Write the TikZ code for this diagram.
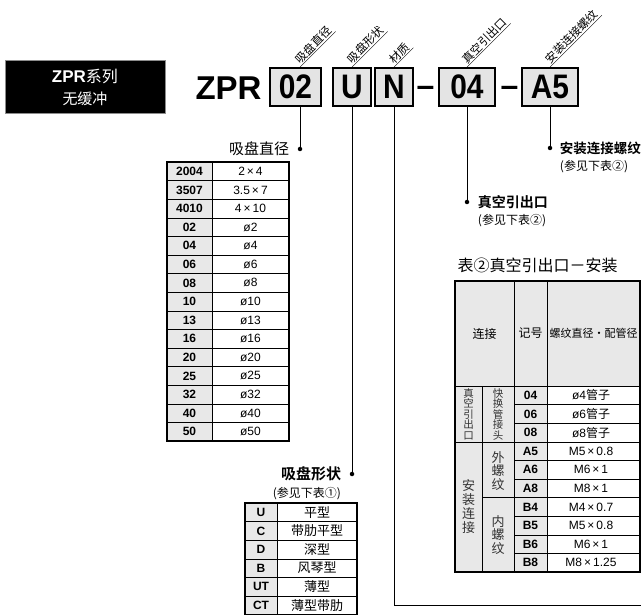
\documentclass[tikz,border=0pt]{standalone}
\usepackage{fontspec}
\setmainfont{Liberation Sans}
\newfontfamily\cjk{Noto Sans CJK SC}[BoldFont={Noto Sans CJK SC Bold}]
\newfontfamily\condsf{Liberation Sans}[FakeStretch=0.88]
\usetikzlibrary{positioning}

\definecolor{cellgray}{RGB}{232,232,232}
\definecolor{boxgray}{RGB}{228,228,228}

\tikzset{
  codebox/.style={draw, line width=1.6pt, fill=boxgray, minimum height=38pt, inner sep=0pt,
    font=\condsf\bfseries\fontsize{34}{34}\selectfont},
  partlabel/.style={rotate=45, anchor=south west, inner xsep=2pt, inner ysep=1pt,
    font=\cjk\fontsize{11.5}{11.5}\selectfont},
  joint/.style={circle, fill, inner sep=0pt, minimum size=4.5pt},
  codecell/.style={font=\bfseries\fontsize{12}{12}\selectfont},
  valcell/.style={font=\fontsize{12}{12}\selectfont},
  shapecell/.style={font=\cjk\fontsize{13}{13}\selectfont},
  vtext/.style={align=center, text=black!80},
}

\begin{document}
\begin{tikzpicture}[x=1pt, y=-1pt]
    \useasboundingbox (0,0) rectangle (641,615);
    \clip (0,0) rectangle (641,615);

    % 系列框
    \node[fill=black, draw=black!45, line width=1pt, minimum width=160pt, minimum height=53pt,
          text=white, align=center, font=\fontsize{16}{22}\selectfont] (series) at (85,87.5)
        {{\bfseries\fontsize{17}{17}\selectfont ZPR}{\cjk 系列}\\{\cjk\fontsize{15}{15}\selectfont 无缓冲}};

    % 型号
    \node[font=\bfseries\fontsize{33}{33}\selectfont] (zpr) at (228.5,88) {ZPR};
    \node[codebox, minimum width=51pt] (b02) at (295.5,87) {02};
    \node[codebox, minimum width=38pt] (bU) at (352,87) {U};
    \node[codebox, minimum width=38pt] (bN) at (394,87) {N};
    \node[anchor=base, font=\bfseries\fontsize{32}{32}\selectfont] (dash1) at (425.5,97) {–};
    \node[codebox, minimum width=56pt] (b04) at (467,87) {04};
    \node[anchor=base, font=\bfseries\fontsize{32}{32}\selectfont] (dash2) at (509.5,97) {–};
    \node[codebox, minimum width=56pt] (bA5) at (550,87) {A5};

    % 引出点
    \node[joint] (j02) at (300,149) {};
    \node[joint] (jU) at (352,474) {};
    \node[joint] (j04) at (467,202) {};
    \node[joint] (jA5) at (550,148) {};
    \coordinate (nEnd) at (660,605);

    % 斜向标注
    \node[partlabel] (t02) at (b02.north -| j02) {吸盘直径};
    \node[partlabel] (tU) at (bU.north) {吸盘形状};
    \node[partlabel] (tN) at (bN.north) {材质};
    \node[partlabel] (t04) at (b04.north) {真空引出口};
    \node[partlabel] (tA5) at (bA5.north) {安装连接螺纹};
    \foreach \t in {t02,tU,tN,t04,tA5}
        \draw (\t.south west) -- (\t.south east);

    % 引出线
    \draw[line width=1pt] (b02.south -| j02) -- (j02);
    \draw[line width=1pt] (bU.south) -- (jU);
    \draw[line width=1pt] (bN.south) -- (bN.south |- nEnd) -- (nEnd);
    \draw[line width=1pt] (b04.south) -- (j04);
    \draw[line width=1pt] (bA5.south) -- (jA5);

    % 标注文字
    \node[left=5pt of j02, font=\cjk\fontsize{15}{15}\selectfont] (l02) {吸盘直径};
    \node[left=5pt of jU, font=\cjk\bfseries\fontsize{15}{15}\selectfont] (lU) {吸盘形状};
    \node[anchor=north east, font=\cjk\fontsize{12}{12}\selectfont] (nU) at ([yshift=1pt]lU.south east) {(参见下表①)};
    \node[right=5pt of j04, font=\cjk\bfseries\fontsize{14}{14}\selectfont] (l04) {真空引出口};
    \node[anchor=north west, font=\cjk\fontsize{12}{12}\selectfont] (n04) at ([yshift=1pt]l04.south west) {(参见下表②)};
    \node[right=4pt of jA5, font=\cjk\bfseries\fontsize{13.5}{13.5}\selectfont] (lA5) {安装连接螺纹};
    \node[anchor=north west, font=\cjk\fontsize{12}{12}\selectfont] (nA5) at ([yshift=1pt]lA5.south west) {(参见下表②)};

    % 吸盘直径表
    \fill[cellgray] (167,162) rectangle (212,441);
    \foreach \i in {1,...,14}
        \draw (167,{162+18.6*\i}) -- (289,{162+18.6*\i});
    \draw (212,162) -- (212,441);
    \draw[line width=1.2pt] (167,162) rectangle (289,441);
    \foreach \c/\v [count=\i from 0] in {2004/2\,×\,4, 3507/3.5\,×\,7, 4010/4\,×\,10, 02/ø2, 04/ø4, 06/ø6,
        08/ø8, 10/ø10, 13/ø13, 16/ø16, 20/ø20, 25/ø25, 32/ø32, 40/ø40, 50/ø50} {
        \node[codecell] (dc\i) at (189.5,{171.3+18.6*\i}) {\c};
        \node[valcell] (dv\i) at (250.5,{171.3+18.6*\i}) {\v};
    }

    % 吸盘形状表
    \fill[cellgray] (245,503) rectangle (277,615);
    \foreach \i in {1,...,5}
        \draw (245,{503+18.6*\i}) -- (357,{503+18.6*\i});
    \draw (277,503) -- (277,615);
    \draw[line width=1.2pt] (245,503) rectangle (357,614.6);
    \foreach \c/\v [count=\i from 0] in {U/平型, C/带肋平型, D/深型, B/风琴型, UT/薄型, CT/薄型带肋} {
        \node[codecell] (sc\i) at (261,{512.3+18.6*\i}) {\c};
        \node[shapecell] (sv\i) at (317,{512.3+18.6*\i}) {\v};
    }

    % 表②
    \node[anchor=west, font=\cjk\fontsize{16}{16}\selectfont] (title2) at (454,265) {表②真空引出口－安装};
    \fill[cellgray] (455,281) rectangle (640,386);
    \fill[cellgray] (455,386) rectangle (547,572);
    \draw (455,386) -- (640,386);
    \draw (482,386) -- (482,572);
    \draw (514,281) -- (514,572);
    \draw (547,281) -- (547,572);
    \foreach \i in {1,2,4,5,7,8,9}
        \draw (514,{386+18.6*\i}) -- (640,{386+18.6*\i});
    \draw (455,{386+18.6*3}) -- (640,{386+18.6*3});
    \draw (482,{386+18.6*6}) -- (640,{386+18.6*6});
    \draw[line width=1.2pt] (455,281) rectangle (640,572);

    \node[font=\cjk\fontsize{12}{12}\selectfont] (h1) at (484.5,333.5) {连接};
    \node[font=\cjk\fontsize{12}{12}\selectfont] (h2) at (530.5,333.5) {记号};
    \node[font=\cjk\fontsize{11}{11}\selectfont] (h3) at (593.5,333.5) {螺纹直径·配管径};

    \node[vtext, font=\cjk\fontsize{10.5}{10.5}\selectfont] (g1) at (468.5,414) {真\\空\\引\\出\\口};
    \node[vtext, font=\cjk\fontsize{10.5}{10.5}\selectfont] (g1a) at (498,414) {快\\换\\管\\接\\头};
    \node[vtext, font=\cjk\fontsize{13}{14}\selectfont] (g2) at (468.5,507) {安\\装\\连\\接};
    \node[vtext, font=\cjk\fontsize{13}{13.5}\selectfont] (g2a) at (498,471) {外\\螺\\纹};
    \node[vtext, font=\cjk\fontsize{13}{13.5}\selectfont] (g2b) at (498,535) {内\\螺\\纹};

    \foreach \c/\v [count=\i from 0] in {04/ø4{\cjk 管子}, 06/ø6{\cjk 管子}, 08/ø8{\cjk 管子},
        A5/M5\,×\,0.8, A6/M6\,×\,1, A8/M8\,×\,1, B4/M4\,×\,0.7, B5/M5\,×\,0.8, B6/M6\,×\,1, B8/M8\,×\,1.25} {
        \node[codecell] (tc\i) at (530.5,{395.3+18.6*\i}) {\c};
        \node[valcell] (tv\i) at (591,{395.3+18.6*\i}) {\v};
    }
\end{tikzpicture}
\end{document}
